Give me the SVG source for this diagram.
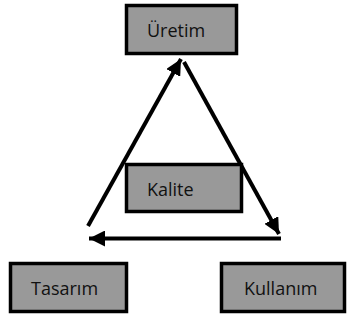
<svg xmlns="http://www.w3.org/2000/svg" width="349" height="320" viewBox="0 0 349 320">
  <style>
    .box { fill: #999999; stroke: #000000; stroke-width: 3.5; }
    .label { font-family: "Open Sans", "Liberation Sans", sans-serif; font-size: 18px; fill: #111111; }
    .edge { stroke: #000000; stroke-width: 4; fill: none; }
  </style>
  <defs>
    <marker id="head" markerUnits="userSpaceOnUse" markerWidth="18" markerHeight="16" refX="16" refY="8" orient="auto">
      <path d="M0,0 L16,8 L0,16 Z" fill="#000000"/>
    </marker>
  </defs>
  <rect width="349" height="320" fill="#ffffff"/>

  <g id="connectors">
    <line class="edge" x1="88" y1="226" x2="181" y2="59" marker-end="url(#head)"/>
    <line class="edge" x1="184" y1="62" x2="279" y2="234" marker-end="url(#head)"/>
    <line class="edge" x1="281" y1="238.5" x2="89" y2="238.5" marker-end="url(#head)"/>
  </g>

  <g id="uretim">
    <rect class="box" x="126.5" y="5.5" width="110" height="48"/>
    <text class="label" x="147" y="37">Üretim</text>
  </g>

  <g id="kalite">
    <rect class="box" x="126.5" y="164.5" width="115" height="47"/>
    <text class="label" x="147" y="196">Kalite</text>
  </g>

  <g id="tasarim">
    <rect class="box" x="10.5" y="263.5" width="116" height="48"/>
    <text class="label" x="31" y="295">Tasarım</text>
  </g>

  <g id="kullanim">
    <rect class="box" x="221.5" y="263.5" width="123" height="48"/>
    <text class="label" x="244" y="295">Kullanım</text>
  </g>
</svg>
